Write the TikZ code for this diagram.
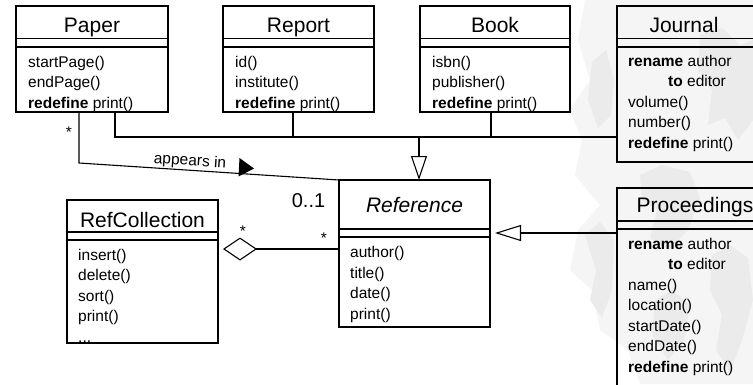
\documentclass[tikz,border=0pt]{standalone}
\usepackage{fontspec}
\setmainfont{Liberation Sans}
\usetikzlibrary{arrows.meta}

\tikzset{
  classbox/.style={draw, line width=1.2pt, inner sep=0pt, outer sep=0pt, anchor=north west},
  divider/.style={line width=1.2pt},
  ctitle/.style={font=\fontsize{21}{24}\selectfont, anchor=base, inner sep=0pt},
  citem/.style={font=\fontsize{15.5}{20}\selectfont, anchor=base west, inner sep=0pt},
  mult/.style={font=\fontsize{15.5}{18}\selectfont, anchor=base, inner sep=0pt},
  link/.style={line width=1.1pt},
  haze/.style={fill=black!4, draw=none},
  hazedark/.style={fill=black!8, draw=none},
}

% three dots kept out of \foreach's range syntax
\newcommand\moredots{...}

% class box: name, x1, y1, x2, y2, first divider, second divider
\newcommand\umlclass[7]{%
  \node[classbox, minimum width={(#4-#2)*1pt}, minimum height={(#5-#3)*1pt}] (#1) at (#2,#3) {};
  \draw[divider] (#2,#6) -- (#4,#6);
  \draw[divider] (#2,#7) -- (#4,#7);
}
% operation list: name prefix, x, first baseline, entries
\newcommand\umlops[4]{%
  \foreach \txt [count=\i from 0] in {#4}
    \node[citem] (#1-\i) at (#2,{#3+20.5*\i}) {\txt};
}

\begin{document}
\begin{tikzpicture}[x=1pt,y=-1pt]
\clip (0,0) rectangle (753,384);
\fill[white] (0,0) rectangle (753,384);

% faint grainy texture on the right
\fill[haze] (585,0) -- (753,0) -- (753,384) -- (640,384) -- (628,350) -- (600,330) -- (592,290)
  -- (570,270) -- (578,230) -- (600,205) -- (575,175) -- (582,140) -- (570,110) -- (590,80) -- (578,40) -- cycle;
\fill[hazedark] (700,35) -- (722,28) -- (740,45) -- (753,40) -- (753,120) -- (738,140) -- (725,118) -- (708,125) -- (712,90) -- (698,70) -- cycle;
\fill[hazedark] (640,175) -- (662,165) -- (690,172) -- (700,198) -- (688,230) -- (668,250) -- (650,238) -- (657,210) -- (642,200) -- cycle;
\fill[hazedark] (585,235) -- (600,222) -- (614,240) -- (612,290) -- (602,318) -- (590,300) -- (596,270) -- cycle;
\fill[hazedark] (712,255) -- (730,245) -- (748,258) -- (753,300) -- (742,340) -- (730,372) -- (716,350) -- (722,315) -- (710,290) -- cycle;
\fill[hazedark] (592,62) -- (606,50) -- (614,80) -- (611,115) -- (598,128) -- (588,100) -- cycle;
\fill[hazedark] (655,300) -- (672,290) -- (690,305) -- (684,340) -- (668,360) -- (652,335) -- cycle;

% classes
\umlclass{paper}{16}{6}{168}{112}{38.5}{47}
\umlclass{report}{223}{6}{374}{112}{38.5}{47}
\umlclass{book}{420}{6}{570}{112}{38.5}{47}
\umlclass{journal}{617}{6}{756}{162}{38.5}{47}
\umlclass{reference}{339}{180}{490}{327}{229}{237}
\umlclass{refcoll}{67}{200}{218}{343}{232}{240}
\umlclass{proceedings}{617}{188}{756}{400}{221}{229}

% class names
\node[ctitle] (paper-t) at (92,32) {Paper};
\node[ctitle] (report-t) at (298.5,32) {Report};
\node[ctitle] (book-t) at (495,32) {Book};
\node[ctitle] (journal-t) at (684,32) {Journal};
\node[ctitle, font=\fontsize{21}{24}\selectfont\itshape] (reference-t) at (414.5,212) {Reference};
\node[ctitle] (refcoll-t) at (142.5,227) {RefCollection};
\node[ctitle] (proceedings-t) at (695,212) {Proceedings};

% operations
\umlops{paper}{28}{67}{startPage(), endPage(), \textbf{redefine} print()}
\umlops{report}{235}{67}{id(), institute(), \textbf{redefine} print()}
\umlops{book}{432}{67}{isbn(), publisher(), \textbf{redefine} print()}
\umlops{journal}{628}{66}{\textbf{rename} author, \hspace{40pt}\textbf{to} editor, volume(), number(), \textbf{redefine} print()}
\umlops{reference}{350}{257.5}{author(), title(), date(), print()}
\umlops{refcoll}{78}{260}{insert(), delete(), sort(), print(), \moredots}
\umlops{proceedings}{628}{249}{\textbf{rename} author, \hspace{40pt}\textbf{to} editor, name(), location(), startDate(), endDate(), \textbf{redefine} print()}

% generalisation tree to Reference
\coordinate (bar) at (419,137);
\draw[link] ([xshift=23pt]paper.south) |- (bar -| journal.west);
\draw[link] ([xshift=-5.5pt]report.south) -- ++(0,25);
\draw[link] ([xshift=-4pt]book.south) -- ++(0,25);
\draw[link, -{Triangle[open, length=24pt, width=16pt, line width=1.1pt]}] (bar) -- (bar |- reference.north);

% Proceedings generalises Reference
\coordinate (gen2) at (560,233);
\draw[link, shorten >=5pt, -{Triangle[open, length=26pt, width=16pt, line width=1.1pt]}] (proceedings.west |- gen2) -- (reference.east |- gen2);

% aggregation RefCollection <>-- Reference
\coordinate (agg) at (280,249);
\draw[link, shorten <=5pt, {Diamond[open, length=34pt, width=23pt, line width=1.1pt]}-] (refcoll.east |- agg) -- (reference.west |- agg);
\node[mult] (agg-m1) at (243,236) {*};
\node[mult] (agg-m2) at (324,243) {*};

% association "appears in"
\coordinate (bend) at (79,163);
\draw[link] (paper.south -| bend) -- (bend) -- (reference.north west);
\fill (239.5,158) -- (254,168.5) -- (238.5,176.5) -- cycle;
\node[font=\fontsize{15.5}{18}\selectfont, inner sep=0pt, rotate=-3.7] (assoc-l) at (190,161.5) {appears in};
\node[mult] (assoc-m1) at (69,137) {*};
\node[mult, font=\fontsize{20}{24}\selectfont] (assoc-m2) at (308.5,207) {0..1};
\end{tikzpicture}
\end{document}
